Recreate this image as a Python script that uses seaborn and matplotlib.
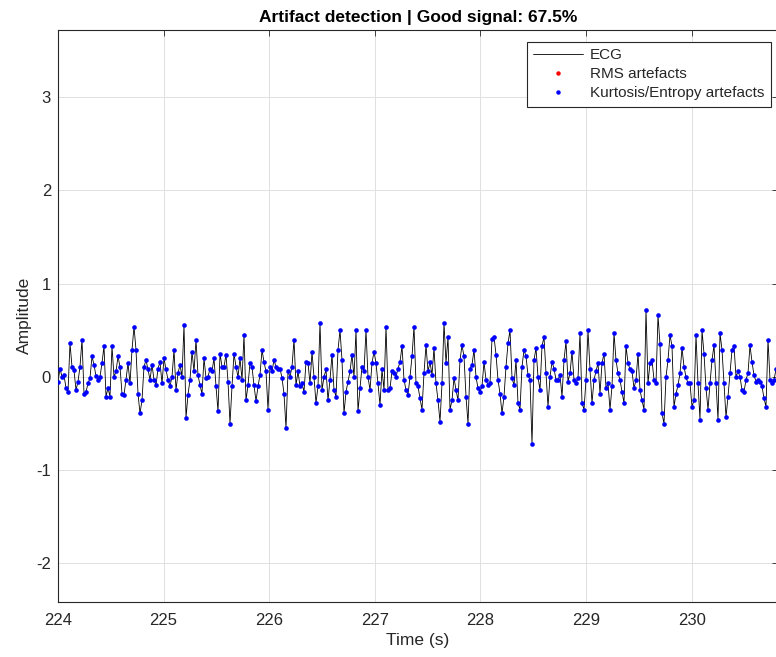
import numpy as np
import matplotlib
matplotlib.use("Agg")
import matplotlib.pyplot as plt
from matplotlib.lines import Line2D
import seaborn as sns

# ---------------- data ----------------
T_START = 224.0          # s, first sample
DT = 0.018939            # s, spacing of the read-off samples

ecg_seg1 = [-0.05, 0.09, 0.0, 0.02, -0.12, -0.16, 0.36, 0.11, 0.07, -0.14,
            -0.05, 0.11, 0.40, -0.18, -0.16, -0.07, -0.01, 0.22, 0.13, 0.01,
            -0.03, 0.0, 0.15, 0.33, -0.21, -0.12, -0.21, 0.33, 0.0, 0.06,
            0.22, 0.11, -0.18, -0.19, -0.03, 0.15, -0.07, 0.29, 0.54, 0.29,
            -0.18, -0.39]
ecg_seg2 = [-0.25, 0.11, 0.18, 0.08, -0.03, 0.13, -0.03, -0.09, 0.09, 0.16,
            -0.07, 0.20, 0.08, -0.03, -0.10, 0.0, 0.29, -0.14, 0.04, 0.13,
            0.0, 0.56, -0.44, -0.19, -0.03, 0.27, 0.06, 0.40, 0.02, -0.09,
            -0.18, 0.20, -0.01, 0.0, 0.09, 0.06, 0.20, -0.10, -0.37, 0.25,
            0.11, 0.11, 0.24, -0.05, -0.50]
ecg_seg3 = [-0.10, 0.25, 0.11, 0.0, 0.20, -0.03, 0.45, -0.25, -0.09, 0.15,
            0.11, -0.09, -0.26, -0.10, 0.02, 0.29, 0.16, 0.06, -0.35, 0.11,
            0.06, 0.18, 0.11, 0.08, 0.09, -0.01, -0.18, -0.55, 0.06, 0.0,
            0.11, 0.40, -0.09, 0.06, -0.10, -0.07, -0.16, 0.16, 0.15, -0.07,
            0.27, 0.0, -0.28, -0.10, 0.58]
ecg_seg4 = [-0.14, 0.0, 0.08, -0.25, -0.03, 0.24, -0.14, -0.21, 0.29, 0.50,
            0.18, -0.39, -0.16, -0.05, 0.06, 0.24, 0.0, 0.50, -0.37, -0.12,
            0.11, 0.06, 0.50, 0.0, -0.14, 0.15, 0.27, 0.15, -0.07, -0.30,
            0.08, -0.14, 0.54, -0.14, -0.12, 0.06, 0.04, 0.0, 0.09, 0.16,
            0.33, -0.03, -0.14, -0.19, 0.0]
ecg_seg5 = [0.22, 0.54, -0.07, -0.10, -0.23, -0.35, 0.04, 0.34, 0.06, 0.16,
            0.02, 0.31, -0.07, -0.25, -0.48, -0.07, 0.58, 0.15, 0.43, -0.35,
            -0.25, -0.01, -0.14, -0.25, 0.18, 0.34, 0.22, -0.21, -0.50, 0.09,
            0.13, 0.29, 0.0, -0.12, -0.16, -0.10, 0.16, -0.03, -0.09, -0.07,
            0.41, 0.43, 0.24, -0.03, -0.18]
ecg_seg6 = [-0.39, -0.21, 0.11, 0.36, 0.50, -0.01, -0.09, 0.18, -0.28, -0.35,
            0.11, 0.29, 0.22, 0.02, -0.03, -0.72, 0.18, 0.31, 0.0, -0.14,
            0.33, 0.43, 0.04, -0.32, 0.0, 0.16, 0.09, -0.03, -0.03, 0.02,
            -0.21, 0.18, 0.38, -0.05, 0.04, 0.27, -0.03, -0.07, -0.01, 0.47,
            -0.28, -0.35, -0.03, 0.50, 0.08]
ecg_seg7 = [-0.28, -0.03, 0.06, 0.15, -0.18, 0.15, 0.25, -0.12, -0.07, -0.35,
            -0.10, 0.47, 0.18, 0.04, -0.03, -0.16, -0.28, 0.33, 0.15, 0.08,
            0.06, -0.12, -0.03, 0.25, -0.14, -0.25, -0.35, 0.72, -0.07, 0.15,
            0.18, -0.03, -0.07, 0.66, 0.35, -0.39, -0.50, 0.0, 0.18, 0.45,
            0.33, -0.32, -0.18, -0.09, 0.04]
ecg_seg8 = [0.31, 0.11, 0.0, -0.07, -0.07, -0.32, -0.25, 0.45, -0.07, -0.46,
            0.50, 0.25, -0.12, -0.35, -0.07, 0.18, 0.34, -0.07, -0.46, 0.47,
            0.29, -0.07, -0.43, -0.21, 0.04, 0.29, 0.33, 0.0, 0.06, 0.0,
            -0.14, -0.16, -0.03, 0.04, 0.34, 0.16, 0.02, -0.05, -0.03, -0.05,
            -0.10, -0.23, -0.32, 0.40, -0.03, -0.07, -0.03, 0.08]

rms_artifact_idx = []                 # no RMS artefacts in this window
kurtosis_artifact_all = True          # whole window flagged by kurtosis/entropy

good_signal_pct = 67.5
x_ticks = [224, 225, 226, 227, 228, 229, 230]
y_ticks = [-2, -1, 0, 1, 2, 3]
x_lim = (224.0, 230.818)
y_lim = (-2.41, 3.72)

# ---------------- assemble ----------------
ecg = np.array(ecg_seg1 + ecg_seg2 + ecg_seg3 + ecg_seg4 +
               ecg_seg5 + ecg_seg6 + ecg_seg7 + ecg_seg8)
time = T_START + np.arange(len(ecg)) * DT
kurt_idx = np.arange(len(ecg)) if kurtosis_artifact_all else np.array([], int)
rms_idx = np.array(rms_artifact_idx, dtype=int)

# ---------------- style ----------------
sns.set_theme(style="white")
plt.rcParams["font.family"] = ["Liberation Sans", "DejaVu Sans"]
plt.rcParams["axes.unicode_minus"] = False
plt.rcParams["axes.edgecolor"] = "#262626"
plt.rcParams["xtick.color"] = "#262626"
plt.rcParams["ytick.color"] = "#262626"

W, H = 776, 657
fig = plt.figure(figsize=(W / 100, H / 100), dpi=100)
left_px, right_px, top_px, bottom_px = 58, 778, 30, 601.7
ax = fig.add_axes([left_px / W, 1 - bottom_px / H,
                   (right_px - left_px) / W, (bottom_px - top_px) / H])

sns.lineplot(x=time, y=ecg, color="black", linewidth=0.6, ax=ax,
             sort=False, estimator=None, zorder=2)
if len(rms_idx):
    sns.scatterplot(x=time[rms_idx], y=ecg[rms_idx], color="red", s=11,
                    linewidth=0, ax=ax, zorder=3)
sns.scatterplot(x=time[kurt_idx], y=ecg[kurt_idx], color="blue", s=11,
                linewidth=0, ax=ax, zorder=4)

ax.set_xlim(*x_lim)
ax.set_ylim(*y_lim)
ax.set_xticks(x_ticks)
ax.set_yticks(y_ticks)
ax.grid(True, color="#e0e0e0", linewidth=0.7, zorder=0)
ax.set_axisbelow(True)
for s in ax.spines.values():
    s.set_linewidth(0.8)
    s.set_visible(True)
ax.tick_params(direction="in", top=True, right=True, length=4, width=0.6,
               labelsize=12, labelcolor="#262626")
ax.tick_params(axis="x", pad=8)
ax.tick_params(axis="y", pad=5)

ax.set_xlabel("Time (s)", fontsize=12.5, color="#262626", labelpad=4)
ax.set_ylabel("Amplitude", fontsize=12.5, color="#262626", labelpad=3)
ax.set_title(f"Artifact detection | Good signal: {good_signal_pct}%",
             fontsize=12.5, fontweight="bold", color="black", pad=6)

handles = [
    Line2D([], [], color="black", linewidth=0.6, label="ECG"),
    Line2D([], [], color="red", marker="o", markersize=2.2, linestyle="none",
           label="RMS artefacts"),
    Line2D([], [], color="blue", marker="o", markersize=2.2, linestyle="none",
           label="Kurtosis/Entropy artefacts"),
]
leg = ax.legend(handles=handles, loc="upper right",
                bbox_to_anchor=(0.9903, 0.979), borderaxespad=0,
                fontsize=11, frameon=True, fancybox=False, framealpha=1,
                edgecolor="#262626", handlelength=3.3, handletextpad=0.45,
                borderpad=0.42, labelspacing=0.32)
leg.get_frame().set_linewidth(0.8)

fig.savefig("out.png", dpi=100)
